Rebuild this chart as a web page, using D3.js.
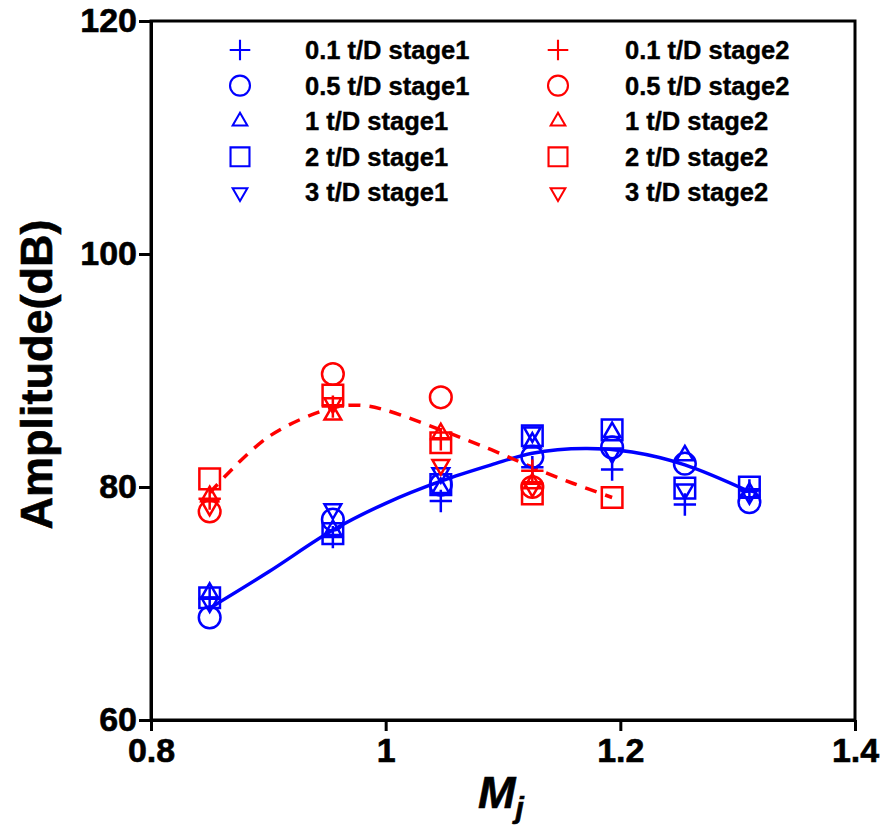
<!DOCTYPE html>
<html>
<head>
<meta charset="utf-8">
<script src="https://cdn.jsdelivr.net/npm/d3@7"></script>
<style>
  body { margin: 0; background: #fff; }
  text { font-family: "Liberation Sans", Arial, sans-serif; font-weight: bold; }
</style>
</head>
<body>
<script>
// Mj values of the measured columns
var mj = [0.85, 0.955, 1.047, 1.125, 1.193, 1.255, 1.31];

// stage1 (blue) amplitudes, dB
var s1_01 = [70.4, 75.7, 78.8, 81.7, 81.5, 78.5, 79.7];
var s1_05 = [68.8, 77.2, 80.2, 82.6, 83.4, 82.0, 78.7];
var s1_1  = [70.9, 76.3, 79.9, 83.8, 84.7, 82.7, 79.5];
var s1_2  = [70.5, 76.0, 80.2, 84.4, 84.9, 79.9, 80.0];
var s1_3  = [70.1, 78.1, 81.2, 84.7, 82.9, 79.8, 79.4];

// stage2 (red) amplitudes, dB (only 2 t/D reaches the 5th column)
var s2_01 = [79.0, 86.9, 84.1, 81.4];
var s2_05 = [77.9, 89.7, 87.7, 80.0];
var s2_1  = [79.2, 86.2, 84.6, 80.3];
var s2_2  = [80.7, 87.9, 83.8, 79.4, 79.1];
var s2_3  = [78.4, 87.2, 81.9, 80.0];

// trend curves
var blueFitX = [0.85, 0.90, 0.955, 1.0, 1.047, 1.09, 1.125, 1.17, 1.21, 1.255, 1.31];
var blueFitY = [69.6, 72.7, 76.3, 78.6, 80.5, 81.9, 82.9, 83.3, 83.0, 81.9, 79.6];
var redFitX = [0.85, 0.90, 0.955, 0.98, 1.0, 1.047, 1.09, 1.125, 1.16, 1.193];
var redFitY = [79.5, 84.3, 86.8, 87.0, 86.6, 84.9, 83.2, 81.7, 80.3, 79.1];

var xTicks = [0.8, 1, 1.2, 1.4];
var yTicks = [60, 80, 100, 120];

var legendLabels = ["0.1 t/D", "0.5 t/D", "1 t/D", "2 t/D", "3 t/D"];
var shapes = ["plus", "circle", "tri", "square", "down"];

var width = 883, height = 829;
var margin = {top: 21, right: 28, bottom: 109, left: 151};

var x = d3.scaleLinear().domain([0.8, 1.4]).range([margin.left, width - margin.right]);
var y = d3.scaleLinear().domain([60, 120]).range([height - margin.bottom, margin.top]);

var svg = d3.select("body").append("svg")
    .attr("width", width)
    .attr("height", height);

// symbol generator per marker kind
function markerPath(kind) {
    if (kind == "plus") return d3.symbol().type(d3.symbolPlus).size(165)();
    if (kind == "circle") return d3.symbol().type(d3.symbolCircle).size(370)();
    if (kind == "square") return d3.symbol().type(d3.symbolSquare2).size(540)();
    return d3.symbol().type(d3.symbolTriangle2).size(200)();
}

function drawMarkers(g, vals, kind, color) {
    g.selectAll(null)
        .data(vals)
        .enter().append("path")
        .attr("d", markerPath(kind))
        .attr("transform", function(d, i) {
            return "translate(" + x(mj[i]) + "," + y(d) + ")" + (kind == "down" ? " rotate(180)" : "");
        })
        .attr("fill", "none")
        .attr("stroke", color)
        .attr("stroke-width", 2.5);
}

// trend lines
var line = d3.line()
    .x(function(d) { return x(d[0]); })
    .y(function(d) { return y(d[1]); })
    .curve(d3.curveCatmullRom);

svg.append("path")
    .attr("d", line(blueFitX.map(function(v, i) { return [v, blueFitY[i]]; })))
    .attr("fill", "none")
    .attr("stroke", "#0000ff")
    .attr("stroke-width", 3.5);

svg.append("path")
    .attr("d", line(redFitX.map(function(v, i) { return [v, redFitY[i]]; })))
    .attr("fill", "none")
    .attr("stroke", "#ff0000")
    .attr("stroke-width", 3.5)
    .attr("stroke-dasharray", "12,9");

var stage1 = [s1_01, s1_05, s1_1, s1_2, s1_3];
var stage2 = [s2_01, s2_05, s2_1, s2_2, s2_3];

var marks = svg.append("g");
stage1.forEach(function(vals, k) { drawMarkers(marks, vals, shapes[k], "#0000ff"); });
stage2.forEach(function(vals, k) { drawMarkers(marks, vals, shapes[k], "#ff0000"); });

// frame
svg.append("rect")
    .attr("x", x(0.8)).attr("y", y(120))
    .attr("width", x(1.4) - x(0.8)).attr("height", y(60) - y(120))
    .attr("fill", "none").attr("stroke", "#000").attr("stroke-width", 3);

// axes
var xAxis = svg.append("g")
    .attr("transform", "translate(0," + y(60) + ")")
    .call(d3.axisBottom(x).tickValues(xTicks).tickSize(11).tickSizeOuter(0).tickPadding(3)
        .tickFormat(function(d) { return d3.format("")(d); }));
var yAxis = svg.append("g")
    .attr("transform", "translate(" + x(0.8) + ",0)")
    .call(d3.axisLeft(y).tickValues(yTicks).tickSize(12).tickSizeOuter(0).tickPadding(2));

[xAxis, yAxis].forEach(function(a) {
    a.select(".domain").attr("stroke-width", 3);
    a.selectAll(".tick line").attr("stroke-width", 3);
    a.selectAll(".tick text").attr("font-size", 34).attr("fill", "#000")
        .attr("stroke", "#000").attr("stroke-width", 0.6);
});
xAxis.selectAll(".tick text").attr("dy", "0.82em");

// axis titles
svg.append("text")
    .attr("transform", "translate(52," + (y(90) + 4) + ") rotate(-90)")
    .attr("text-anchor", "middle")
    .attr("font-size", 45)
    .attr("stroke", "#000").attr("stroke-width", 0.6)
    .text("Amplitude(dB)");

var xt = svg.append("text")
    .attr("x", x(1.1) - 2)
    .attr("y", 808)
    .attr("text-anchor", "middle")
    .attr("font-size", 45)
    .attr("font-style", "italic")
    .attr("stroke", "#000").attr("stroke-width", 0.6);
xt.append("tspan").text("M");
xt.append("tspan").attr("font-size", 30).attr("dy", 10).text("j");

// legend
var legRow = 35.6;
function drawLegend(stage, color, symX, textX) {
    var lg = svg.append("g");
    legendLabels.forEach(function(lab, k) {
        var cy = 50 + k * legRow;
        lg.append("path")
            .attr("d", markerPath(shapes[k]))
            .attr("transform", "translate(" + symX + "," + cy + ")" + (shapes[k] == "down" ? " rotate(180)" : "") +
                (shapes[k] == "tri" || shapes[k] == "down" ? " scale(0.88)" : " scale(0.92)"))
            .attr("fill", "none")
            .attr("stroke", color)
            .attr("stroke-width", 2.3);
        lg.append("text")
            .attr("x", textX)
            .attr("y", cy + 9)
            .attr("font-size", 25.5)
            .attr("stroke", "#000").attr("stroke-width", 0.4)
            .text(lab + " " + stage);
    });
}
drawLegend("stage1", "#0000ff", 240, 305);
drawLegend("stage2", "#ff0000", 558, 625);
</script>
</body>
</html>
